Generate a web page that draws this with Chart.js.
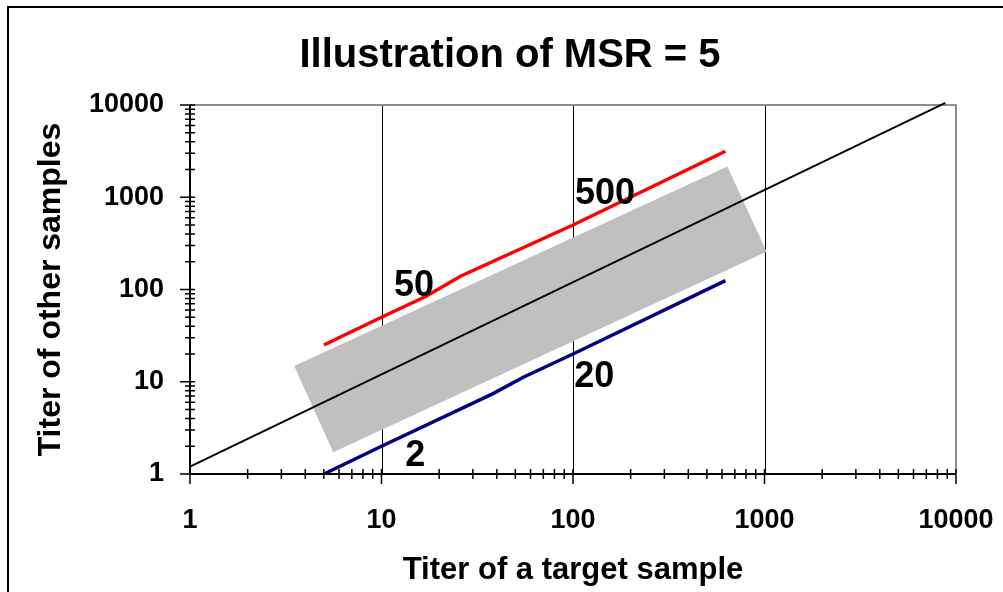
<!DOCTYPE html>
<html lang="en">
<head>
<meta charset="UTF-8">
<title>Illustration of MSR = 5</title>
<script src="https://cdn.jsdelivr.net/npm/chart.js@4"></script>
<style>
  body { margin: 0; background: #fff; }
  .wrap { position: relative; width: 1003px; height: 592px; overflow: hidden; }
  .frame { position: absolute; left: 7px; top: 6px; width: 1100px; height: 700px; border: 2px solid #000; }
  canvas { position: absolute; left: 0; top: 0; }
</style>
</head>
<body>
<div class="wrap">
  <div class="frame"></div>
  <canvas id="msrChart" width="1003" height="592"></canvas>
</div>
<script>
const FONT = 'Arial, "Liberation Sans", sans-serif';

const tickValues = [1, 10, 100, 1000, 10000];
const tickLabels = ['1', '10', '100', '1000', '10000'];
const gridValues = [10, 100, 1000];

// reference line y = 1.2x
const diagX = [1, 8800];
const diagY = [1.2, 10560];

// upper limit (red) and lower limit (blue)
const upperX = [5, 10, 17, 26, 100, 625];
const upperY = [25, 50, 84, 140, 500, 3150];
const lowerX = [5, 10, 38, 55, 100, 625];
const lowerY = [1, 2, 7.4, 11.2, 20, 125];

// grey band, top edge and bottom edge meet at the end corners
const bandTopX = [3.5, 640, 1025];
const bandTopY = [14.8, 2150, 256];
const bandBottomX = [3.5, 5.6, 1025];
const bandBottomY = [14.8, 1.72, 256];

// value notes beside the limit lines
const noteText = ['50', '500', '2', '20'];
const noteX = [14.8, 147, 15, 129];
const noteY = [110, 1080, 1.56, 11.2];

function points(xs, ys) {
    return xs.map((x, i) => ({ x: x, y: ys[i] }));
}

const axisMarks = {
    id: 'axisMarks',
    beforeDatasetsDraw(chart) {
        const { ctx, chartArea: a, scales: { x } } = chart;
        ctx.save();
        ctx.strokeStyle = '#000';
        ctx.lineWidth = 1;
        gridValues.forEach(v => {
            const px = Math.round(x.getPixelForValue(v)) + 0.5;
            ctx.beginPath();
            ctx.moveTo(px, a.top);
            ctx.lineTo(px, a.bottom);
            ctx.stroke();
        });
        // plot frame, top and right
        ctx.strokeStyle = '#8c8c8c';
        ctx.lineWidth = 2;
        ctx.beginPath();
        ctx.moveTo(a.left, a.top);
        ctx.lineTo(a.right, a.top);
        ctx.lineTo(a.right, a.bottom);
        ctx.stroke();
        ctx.restore();
    },
    afterDatasetsDraw(chart) {
        const { ctx, chartArea: a, scales: { x, y } } = chart;
        ctx.save();
        ctx.strokeStyle = '#000';
        ctx.lineWidth = 2;
        ctx.beginPath();
        ctx.moveTo(a.left, a.top);
        ctx.lineTo(a.left, a.bottom);
        ctx.lineTo(a.right, a.bottom);
        ctx.stroke();

        // log ticks crossing both axes, decades stick out further
        ctx.lineWidth = 1.5;
        for (let d = 1; d <= 10000; d *= 10) {
            for (let k = 1; k <= 9; k++) {
                const v = d * k;
                if (v > 10000) break;
                const out = k === 1 ? 10 : 5;
                const px = x.getPixelForValue(v);
                const py = y.getPixelForValue(v);
                ctx.beginPath();
                ctx.moveTo(px, a.bottom - 5);
                ctx.lineTo(px, a.bottom + out);
                ctx.moveTo(a.left + 5, py);
                ctx.lineTo(a.left - out, py);
                ctx.stroke();
            }
        }

        ctx.fillStyle = '#000';
        ctx.textAlign = 'center';
        ctx.textBaseline = 'middle';
        ctx.font = 'bold 36px ' + FONT;
        noteText.forEach((t, i) => {
            ctx.fillText(t, x.getPixelForValue(noteX[i]), y.getPixelForValue(noteY[i]));
        });

        ctx.font = 'bold 40px ' + FONT;
        ctx.fillText('Illustration of MSR = 5', 510, 56);
        ctx.restore();
    }
};

const tickFont = { family: FONT, size: 27, weight: 'bold' };

new Chart(document.getElementById('msrChart'), {
    type: 'line',
    data: {
        datasets: [
            { data: points(diagX, diagY), borderColor: '#000', borderWidth: 2, pointRadius: 0, clip: false },
            { data: points(upperX, upperY), borderColor: '#ff0000', borderWidth: 3.5, pointRadius: 0 },
            { data: points(lowerX, lowerY), borderColor: '#000080', borderWidth: 3.5, pointRadius: 0 },
            { data: points(bandTopX, bandTopY), borderColor: 'rgba(0,0,0,0)', borderWidth: 0,
              backgroundColor: '#c0c0c0', fill: '+1', pointRadius: 0 },
            { data: points(bandBottomX, bandBottomY), borderColor: 'rgba(0,0,0,0)', borderWidth: 0, pointRadius: 0 }
        ]
    },
    options: {
        responsive: false,
        animation: false,
        devicePixelRatio: 1,
        events: [],
        layout: { padding: { top: 105, right: 47, bottom: 0, left: 0 } },
        plugins: {
            legend: { display: false },
            tooltip: { enabled: false },
            title: { display: false }
        },
        scales: {
            x: {
                type: 'logarithmic',
                min: 1,
                max: 10000,
                grid: { display: false, drawTicks: false },
                border: { display: false },
                afterBuildTicks: s => { s.ticks = tickValues.map(v => ({ value: v })); },
                afterFit: s => {
                    s.height = 118;
                    s.paddingLeft = 0;
                    s.paddingRight = 0;
                },
                ticks: {
                    callback: (v, i) => tickLabels[i],
                    color: '#000',
                    font: tickFont,
                    padding: 30,
                    maxRotation: 0,
                    autoSkip: false
                },
                title: {
                    display: true,
                    text: 'Titer of a target sample',
                    color: '#000',
                    font: { family: FONT, size: 31, weight: 'bold' },
                    padding: { top: 0, bottom: 3 }
                }
            },
            y: {
                type: 'logarithmic',
                min: 1,
                max: 10000,
                grid: { display: false, drawTicks: false },
                border: { display: false },
                afterBuildTicks: s => { s.ticks = tickValues.map(v => ({ value: v })); },
                afterFit: s => {
                    s.width = 190;
                    s.paddingTop = 0;
                    s.paddingBottom = 0;
                },
                ticks: {
                    callback: (v, i) => tickLabels[i],
                    color: '#000',
                    font: tickFont,
                    padding: 26,
                    autoSkip: false
                },
                title: {
                    display: true,
                    text: 'Titer of other samples',
                    color: '#000',
                    font: { family: FONT, size: 32, weight: 'bold' },
                    padding: { top: 32, bottom: 0 }
                }
            }
        }
    },
    plugins: [axisMarks]
});
</script>
</body>
</html>
